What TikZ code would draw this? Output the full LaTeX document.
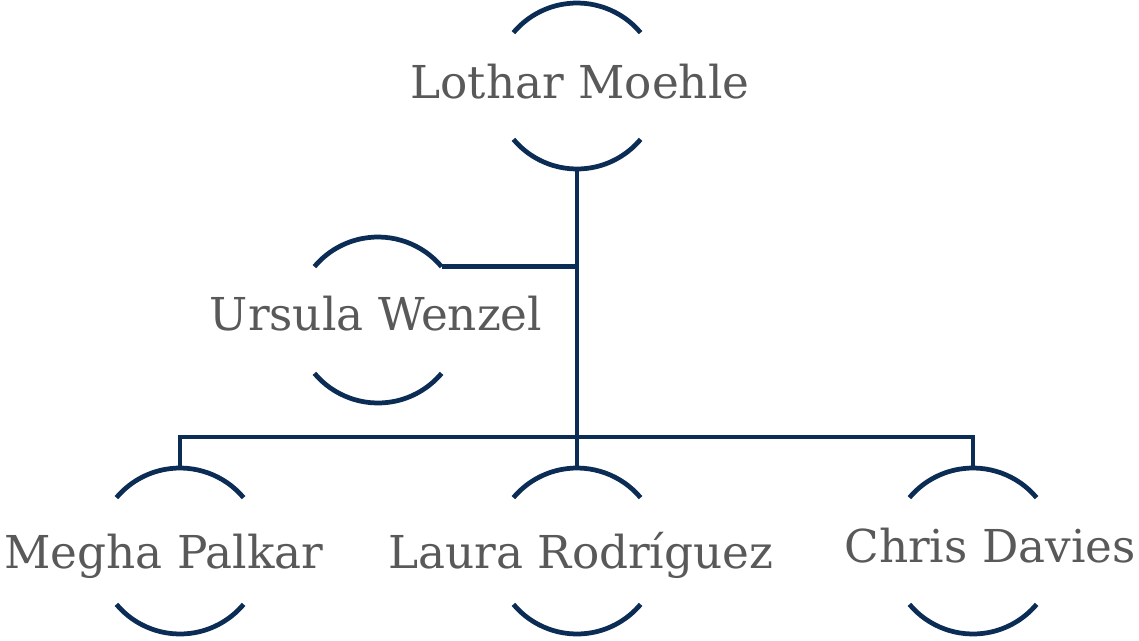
\documentclass[tikz,border=0pt]{standalone}
\usepackage{fontspec}
\setmainfont{DejaVu Serif}
\usetikzlibrary{positioning}
\definecolor{navy}{HTML}{0B2C55}
\definecolor{namegray}{HTML}{595959}

\begin{document}
\begin{tikzpicture}[x=0.02cm, y=-0.02cm,
    ring/.style={circle, minimum size=3.32cm, inner sep=0pt, outer sep=0pt},
    link/.style={navy, line width=2.7pt},
    personname/.style={text=namegray, font=\fontsize{25.8}{30}\selectfont, anchor=base}]
  \useasboundingbox (0,0) rectangle (1139,640);

  % circles of the people (only the arcs are drawn)
  \node[ring] (lothar) at (577,86) {};
  \node[ring] (ursula) at (378,320) {};
  \node[ring] (megha) at (180,551) {};
  \node[ring] (laura) at (577,551) {};
  \node[ring] (chris) at (973,551) {};

  \foreach \p in {lothar,ursula,megha,laura,chris} {
    \draw[link] (\p.40) arc[start angle=40, end angle=140, radius=1.66cm];
    \draw[link] (\p.220) arc[start angle=220, end angle=320, radius=1.66cm];
  }

  % names
  \node[personname] (lothar-name) at (580,98) {Lothar Moehle};
  \node[personname] (ursula-name) at (376,330) {Ursula Wenzel};
  \node[personname] (megha-name) at (164,568) {Megha Palkar};
  \node[personname] (laura-name) at (581,568) {Laura Rodríguez};
  \node[personname] (chris-name) at (990,562) {Chris Davies};

  % connectors
  \coordinate (split) at (577,437);
  \draw[link] (lothar.south) -- (laura.north);
  \draw[link] (ursula.40) -- (ursula.40 -| lothar.south);
  \draw[link] (megha.north) |- (split) -| (chris.north);
\end{tikzpicture}
\end{document}
